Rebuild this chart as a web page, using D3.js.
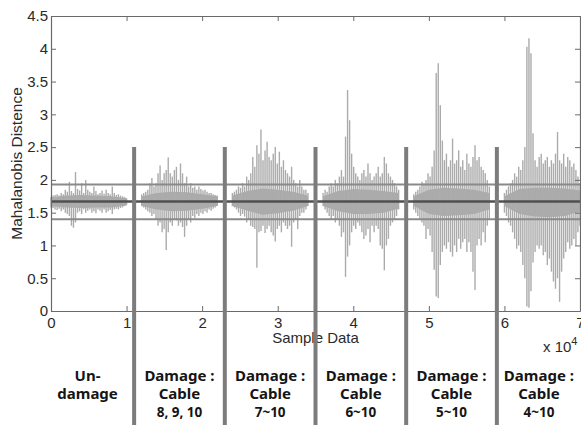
<!DOCTYPE html>
<html><head><meta charset="utf-8">
<script src="https://cdn.jsdelivr.net/npm/d3@7"></script>
<style>
html,body{margin:0;padding:0;background:#fff;}
svg{display:block;}
</style></head>
<body>
<svg id="chart" width="581" height="425"></svg>
<script>
// ---- data ----
const xTicks = [0,1,2,3,4,5,6,7];
const yTicks = [0,0.5,1,1.5,2,2.5,3,3.5,4,4.5];
const segmentStarts = [0.0, 1.2, 2.4, 3.6, 4.8, 6.0];
const segmentLength = 1.0;
const separators = [1.1, 2.3, 3.5, 4.7, 5.9];
const separatorTop = 2.5;
const meanLine = 1.67;
const upperLimit = 1.93;
const lowerLimit = 1.40;

// envelope (spike) values per segment
const seg1Hi = [1.74,1.76,1.77,1.78,1.76,1.8,1.78,1.85,1.82,1.97,1.83,1.8,2.12,1.86,1.84,1.95,1.8,2.0,1.85,1.82,1.8,1.9,1.83,1.78,1.8,1.84,1.79,1.85,1.8,1.78,1.9,1.8,1.77,1.78,1.76,1.75,1.74,1.72];
const seg1Lo = [1.58,1.57,1.55,1.54,1.56,1.52,1.55,1.5,1.48,1.45,1.3,1.27,1.35,1.5,1.52,1.48,1.55,1.5,1.53,1.55,1.5,1.52,1.49,1.55,1.53,1.5,1.55,1.5,1.52,1.54,1.48,1.55,1.56,1.55,1.57,1.58,1.6,1.62];
const seg2Hi = [1.78,1.8,1.82,1.85,1.95,2.03,1.9,1.95,2.1,2.22,2.0,2.1,2.15,2.34,2.1,2.05,2.15,2.2,2.0,2.25,2.1,1.95,2.05,1.9,1.95,1.88,1.9,1.85,1.9,1.86,1.84,1.85,1.82,1.8,1.8,1.78,1.77,1.76];
const seg2Lo = [1.6,1.58,1.55,1.52,1.5,1.45,1.48,1.4,1.3,1.35,1.2,1.25,0.93,1.2,1.35,1.3,1.4,1.38,1.3,1.35,1.28,1.13,1.3,1.4,1.35,1.45,1.42,1.48,1.45,1.5,1.48,1.52,1.5,1.55,1.53,1.56,1.58,1.6];
const seg3Hi = [1.8,1.82,1.85,1.9,1.88,1.95,1.9,2.05,2.0,2.1,2.35,2.2,2.53,2.4,2.77,2.3,2.45,2.58,2.35,2.3,2.4,2.5,2.25,2.43,2.2,2.3,2.15,2.1,2.05,2.2,2.0,1.95,1.9,2.0,1.9,1.85,1.85,1.8];
const seg3Lo = [1.6,1.58,1.55,1.5,1.45,1.48,1.44,1.35,1.4,1.3,1.28,1.25,0.66,1.2,1.22,1.3,1.19,1.25,1.3,1.2,1.15,1.06,1.25,1.3,1.2,1.35,1.3,1.25,1.3,0.98,1.35,1.4,1.25,1.45,1.5,1.5,1.55,1.6];
const seg4Hi = [1.8,1.85,1.82,1.9,1.95,1.9,2.0,1.95,2.05,2.15,2.05,2.66,3.37,2.91,2.4,2.2,2.1,2.05,2.0,2.1,2.15,2.05,2.25,2.1,2.0,2.05,2.1,2.2,2.05,2.1,2.35,2.25,2.1,2.05,2.0,1.95,1.9,1.85];
const seg4Lo = [1.6,1.55,1.5,1.45,1.4,1.45,1.35,1.4,1.3,1.13,1.2,0.52,0.83,1.0,1.2,1.3,1.25,1.35,1.3,1.2,1.1,1.15,1.25,1.05,1.3,1.2,1.3,1.25,1.0,0.95,0.62,1.0,1.1,1.3,1.35,1.4,1.45,1.55];
const seg5Hi = [1.78,1.82,1.85,1.9,1.97,1.95,2.0,2.1,2.05,2.2,2.45,3.63,3.78,3.14,2.6,2.3,2.4,2.2,2.3,2.63,2.25,2.3,2.45,2.2,2.3,2.15,2.4,2.25,2.2,2.35,2.53,2.3,2.35,2.2,2.15,2.1,2.0,1.9];
const seg5Lo = [1.55,1.5,1.45,1.4,1.35,1.3,1.1,1.25,1.15,0.9,0.63,0.22,0.2,0.7,0.9,1.0,0.95,1.05,0.9,0.83,1.0,0.9,1.1,0.95,1.05,1.1,0.9,1.05,0.9,0.6,0.32,1.0,1.1,1.0,1.2,1.05,1.3,1.4];
const seg6Hi = [1.8,1.85,1.9,1.95,2.0,2.1,2.05,2.2,2.15,2.3,2.5,4.03,4.16,3.93,2.71,2.3,2.2,2.35,2.4,2.25,2.3,2.35,2.2,2.3,2.25,2.4,2.73,2.3,2.25,2.4,2.2,2.35,2.3,2.2,2.25,2.15,2.05,1.95];
const seg6Lo = [1.5,1.45,1.35,1.3,1.2,1.1,0.95,1.0,0.9,0.7,0.5,0.07,0.05,0.3,0.74,0.9,1.0,0.95,1.0,0.85,0.9,0.7,0.8,0.6,0.45,0.34,0.5,0.14,0.6,0.8,0.9,1.05,0.95,1.0,1.1,1.0,1.2,1.3];
// dense core band per segment
const core1Hi = [1.73,1.76,1.77,1.76,1.75,1.72], core1Lo = [1.6,1.58,1.57,1.58,1.58,1.61];
const core2Hi = [1.75,1.8,1.82,1.81,1.78,1.75], core2Lo = [1.6,1.55,1.52,1.53,1.56,1.6];
const core3Hi = [1.76,1.83,1.87,1.85,1.82,1.76], core3Lo = [1.6,1.53,1.47,1.49,1.53,1.6];
const core4Hi = [1.75,1.83,1.86,1.85,1.83,1.8], core4Lo = [1.6,1.52,1.48,1.48,1.5,1.56];
const core5Hi = [1.75,1.85,1.88,1.87,1.85,1.8], core5Lo = [1.6,1.48,1.45,1.46,1.48,1.55];
const core6Hi = [1.75,1.86,1.88,1.88,1.87,1.84], core6Lo = [1.6,1.48,1.44,1.43,1.45,1.52];

const groupLabels = [
  ["Un-","damage",""],
  ["Damage :","Cable","8, 9, 10"],
  ["Damage :","Cable","7~10"],
  ["Damage :","Cable","6~10"],
  ["Damage :","Cable","5~10"],
  ["Damage :","Cable","4~10"]
];
const yTitle = "Mahalanobis Distence";
const xTitle = "Sample Data";

// ---- drawing ----
const svg = d3.select("#chart");
const L = 51, R = 580, T = 16, B = 311;
const x = d3.scaleLinear().domain([0,7]).range([L,R]);
const y = d3.scaleLinear().domain([0,4.5]).range([B,T]);
const fontA = "'Liberation Sans', Arial, sans-serif";
const axisCol = "#6a6a6a";

const segs = [
  [seg1Hi,seg1Lo,core1Hi,core1Lo],[seg2Hi,seg2Lo,core2Hi,core2Lo],[seg3Hi,seg3Lo,core3Hi,core3Lo],
  [seg4Hi,seg4Lo,core4Hi,core4Lo],[seg5Hi,seg5Lo,core5Hi,core5Lo],[seg6Hi,seg6Lo,core6Hi,core6Lo]
];

const dataG = svg.append("g");
segs.forEach((s,k)=>{
  const start = segmentStarts[k];
  const [hi,lo,cHi,cLo] = s;
  const n = hi.length;
  const pts = hi.map((h,i)=>({x:start+segmentLength*i/(n-1), hi:h, lo:lo[i]}));
  const m = cHi.length;
  const core = cHi.map((h,i)=>({x:start+segmentLength*i/(m-1), hi:h, lo:cLo[i]}));
  dataG.append("path")
    .datum(core)
    .attr("d", d3.area().x(d=>x(d.x)).y0(d=>y(d.lo)).y1(d=>y(d.hi)))
    .attr("fill","#acacac");
  dataG.selectAll(null).data(pts).enter().append("line")
    .attr("x1",d=>x(d.x)).attr("x2",d=>x(d.x))
    .attr("y1",d=>y(d.lo)).attr("y2",d=>y(d.hi))
    .attr("stroke","#ababab").attr("stroke-width",1.4);
});

// horizontal reference lines
[[upperLimit,"#8a8a8a",2],[lowerLimit,"#8a8a8a",2],[meanLine,"#505050",2.5]].forEach(([v,c,w])=>{
  svg.append("line").attr("x1",L).attr("x2",R).attr("y1",y(v)).attr("y2",y(v))
    .attr("stroke",c).attr("stroke-width",w);
});

// axes
const gx = svg.append("g").attr("transform",`translate(0,${B})`)
  .call(d3.axisBottom(x).tickValues(xTicks).tickFormat(d3.format("d")).tickSizeInner(-5).tickSizeOuter(0).tickPadding(6));
const gxt = svg.append("g").attr("transform",`translate(0,${T})`)
  .call(d3.axisTop(x).tickValues(xTicks).tickFormat("").tickSizeInner(-5).tickSizeOuter(0));
const gy = svg.append("g").attr("transform",`translate(${L},0)`)
  .call(d3.axisLeft(y).tickValues(yTicks).tickFormat(d=>String(d)).tickSizeInner(-5).tickSizeOuter(0).tickPadding(3));
const gyr = svg.append("g").attr("transform",`translate(${R},0)`)
  .call(d3.axisRight(y).tickValues(yTicks).tickFormat("").tickSizeInner(-5).tickSizeOuter(0));
[gx,gxt,gy,gyr].forEach(g=>{
  g.select(".domain").attr("stroke",axisCol).attr("stroke-width",1.2);
  g.selectAll(".tick line").attr("stroke",axisCol);
  g.selectAll("text").attr("font-family",fontA).attr("font-size",15).attr("fill","#2a2a2a");
});

// titles
svg.append("text").attr("x",(L+R)/2).attr("y",343).attr("text-anchor","middle")
  .attr("font-family",fontA).attr("font-size",15).attr("fill","#2a2a2a").text(xTitle);
svg.append("text").attr("transform",`translate(22,${(T+B)/2}) rotate(-90)`).attr("text-anchor","middle")
  .attr("font-family",fontA).attr("font-size",15.5).attr("fill","#2a2a2a").text(yTitle);
const ex = svg.append("text").attr("x",543).attr("y",352).attr("font-family",fontA).attr("font-size",15).attr("fill","#2a2a2a");
ex.append("tspan").text("x 10");
ex.append("tspan").attr("dy",-7).attr("font-size",11).text("4");

// separators
svg.selectAll(null).data(separators).enter().append("line")
  .attr("x1",d=>x(d)).attr("x2",d=>x(d)).attr("y1",y(separatorTop)).attr("y2",425)
  .attr("stroke","#7c7c7c").attr("stroke-width",4);

// group labels
const bounds = [41].concat(separators.map(d=>x(d))).concat([581]);
const fontB = "'Noto Sans', 'Open Sans', sans-serif";
groupLabels.forEach((lab,k)=>{
  const cx = (bounds[k]+bounds[k+1])/2;
  [[lab[0],381,15],[lab[1],398.5,15],[lab[2],417,13.5]].forEach(([t,yy,fs])=>{
    if(!t) return;
    svg.append("text").attr("x",cx).attr("y",yy).attr("text-anchor","middle")
      .attr("font-family",fontB).attr("font-weight","bold").attr("font-size",fs).attr("fill","#151515").text(t);
  });
});
</script>
</body></html>
